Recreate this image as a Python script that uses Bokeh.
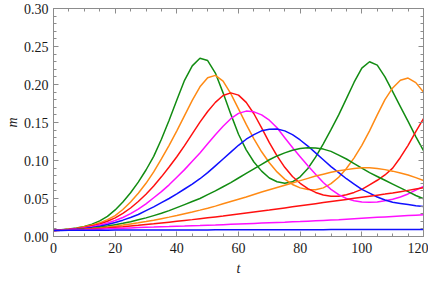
from bokeh.plotting import figure
from bokeh.models import Range1d, LinearAxis, FixedTicker, NumeralTickFormatter
from bokeh.embed import file_html
from bokeh.resources import INLINE

t = [0, 2.5, 5, 7.5, 10, 12.5, 15, 17.5, 20, 22.5, 25, 27.5, 30, 32.5, 35, 37.5, 40,
     42.5, 45, 47.5, 50, 52.5, 55, 57.5, 60, 62.5, 65, 67.5, 70, 72.5, 75, 77.5, 80,
     82.5, 85, 87.5, 90, 92.5, 95, 97.5, 100, 102.5, 105, 107.5, 110, 112.5, 115, 117.5, 120]

green1 = [0.0080, 0.0088, 0.0098, 0.0113, 0.0133, 0.0163, 0.0205, 0.0265, 0.0350, 0.0455,
          0.0575, 0.0715, 0.0875, 0.1055, 0.1280, 0.1530, 0.1795, 0.2055, 0.2245, 0.2345,
          0.2315, 0.2150, 0.1890, 0.1610, 0.1345, 0.1140, 0.0980, 0.0860, 0.0770, 0.0720,
          0.0700, 0.0720, 0.0785, 0.0895, 0.1045, 0.1220, 0.1405, 0.1600, 0.1815, 0.2030,
          0.2215, 0.2300, 0.2255, 0.2100, 0.1905, 0.1710, 0.1515, 0.1315, 0.1130]
orange1 = [0.0080, 0.0087, 0.0096, 0.0110, 0.0128, 0.0150, 0.0180, 0.0222, 0.0275, 0.0355,
           0.0455, 0.0570, 0.0700, 0.0850, 0.1020, 0.1200, 0.1390, 0.1590, 0.1790, 0.1970,
           0.2090, 0.2120, 0.2045, 0.1880, 0.1680, 0.1475, 0.1285, 0.1115, 0.0970, 0.0850,
           0.0755, 0.0685, 0.0640, 0.0618, 0.0615, 0.0640, 0.0695, 0.0780, 0.0895, 0.1035,
           0.1200, 0.1390, 0.1600, 0.1800, 0.1955, 0.2055, 0.2085, 0.2025, 0.1900]
red1 = [0.0080, 0.0086, 0.0094, 0.0106, 0.0120, 0.0140, 0.0165, 0.0200, 0.0245, 0.0305,
        0.0375, 0.0460, 0.0555, 0.0665, 0.0785, 0.0915, 0.1050, 0.1195, 0.1350, 0.1505,
        0.1645, 0.1765, 0.1855, 0.1890, 0.1860, 0.1765, 0.1615, 0.1430, 0.1235, 0.1060,
        0.0910, 0.0790, 0.0700, 0.0630, 0.0580, 0.0545, 0.0530, 0.0530, 0.0550, 0.0580,
        0.0620, 0.0680, 0.0740, 0.0810, 0.0900, 0.1040, 0.1200, 0.1380, 0.1550]
magenta1 = [0.0080, 0.0085, 0.0091, 0.0100, 0.0112, 0.0128, 0.0150, 0.0177, 0.0210, 0.0250,
            0.0300, 0.0360, 0.0430, 0.0510, 0.0590, 0.0680, 0.0780, 0.0880, 0.0990, 0.1100,
            0.1220, 0.1340, 0.1450, 0.1550, 0.1620, 0.1650, 0.1640, 0.1600, 0.1530, 0.1430,
            0.1300, 0.1170, 0.1050, 0.0930, 0.0820, 0.0710, 0.0620, 0.0550, 0.0500, 0.0470,
            0.0455, 0.0450, 0.0455, 0.0470, 0.0490, 0.0520, 0.0560, 0.0610, 0.0660]
blue1 = [0.0080, 0.0084, 0.0089, 0.0096, 0.0105, 0.0118, 0.0135, 0.0158, 0.0185, 0.0215,
         0.0250, 0.0290, 0.0340, 0.0390, 0.0445, 0.0500, 0.0560, 0.0625, 0.0690, 0.0760,
         0.0840, 0.0930, 0.1020, 0.1110, 0.1200, 0.1280, 0.1340, 0.1390, 0.1410, 0.1415,
         0.1390, 0.1340, 0.1270, 0.1190, 0.1100, 0.1010, 0.0920, 0.0840, 0.0760, 0.0690,
         0.0620, 0.0570, 0.0520, 0.0480, 0.0450, 0.0435, 0.0420, 0.0405, 0.0395]
green2 = [0.0080, 0.0083, 0.0087, 0.0093, 0.0100, 0.0110, 0.0122, 0.0137, 0.0155, 0.0173,
          0.0195, 0.0220, 0.0245, 0.0275, 0.0305, 0.0340, 0.0380, 0.0420, 0.0460, 0.0500,
          0.0550, 0.0600, 0.0655, 0.0710, 0.0770, 0.0830, 0.0890, 0.0950, 0.1010, 0.1060,
          0.1100, 0.1135, 0.1157, 0.1167, 0.1165, 0.1150, 0.1120, 0.1070, 0.1020, 0.0960,
          0.0900, 0.0840, 0.0790, 0.0740, 0.0690, 0.0640, 0.0590, 0.0540, 0.0496]
orange2 = [0.0080, 0.0082, 0.0085, 0.0090, 0.0096, 0.0104, 0.0113, 0.0124, 0.0136, 0.0150,
           0.0165, 0.0180, 0.0197, 0.0215, 0.0235, 0.0255, 0.0277, 0.0300, 0.0323, 0.0347,
           0.0372, 0.0400, 0.0430, 0.0460, 0.0490, 0.0520, 0.0553, 0.0585, 0.0615, 0.0645,
           0.0675, 0.0705, 0.0735, 0.0765, 0.0795, 0.0820, 0.0845, 0.0865, 0.0880, 0.0895,
           0.0903, 0.0903, 0.0895, 0.0880, 0.0860, 0.0835, 0.0810, 0.0775, 0.0737]
red2 = [0.0080, 0.0082, 0.0085, 0.0089, 0.0094, 0.0100, 0.0106, 0.0113, 0.0121, 0.0129,
        0.0138, 0.0147, 0.0157, 0.0167, 0.0178, 0.0189, 0.0200, 0.0211, 0.0222, 0.0234,
        0.0246, 0.0258, 0.0270, 0.0283, 0.0296, 0.0309, 0.0322, 0.0335, 0.0348, 0.0362,
        0.0376, 0.0390, 0.0404, 0.0418, 0.0432, 0.0446, 0.0460, 0.0474, 0.0488, 0.0502,
        0.0516, 0.0530, 0.0544, 0.0558, 0.0573, 0.0590, 0.0607, 0.0624, 0.0641]
magenta2 = [0.0080, 0.0081, 0.0083, 0.0086, 0.0089, 0.0093, 0.0097, 0.0101, 0.0105, 0.0109,
            0.0113, 0.0117, 0.0121, 0.0124, 0.0128, 0.0131, 0.0135, 0.0138, 0.0142, 0.0145,
            0.0149, 0.0152, 0.0156, 0.0160, 0.0164, 0.0168, 0.0172, 0.0176, 0.0180, 0.0184,
            0.0188, 0.0193, 0.0197, 0.0202, 0.0207, 0.0212, 0.0217, 0.0222, 0.0228, 0.0234,
            0.0240, 0.0246, 0.0252, 0.0258, 0.0264, 0.0270, 0.0275, 0.0280, 0.0285]
blue2 = [0.0080, 0.0080, 0.0081, 0.0081, 0.0082, 0.0082, 0.0083, 0.0083, 0.0084, 0.0084,
         0.0084, 0.0085, 0.0085, 0.0085, 0.0086, 0.0086, 0.0086, 0.0087, 0.0087, 0.0087,
         0.0087, 0.0088, 0.0088, 0.0088, 0.0088, 0.0089, 0.0089, 0.0089, 0.0089, 0.0089,
         0.0090, 0.0090, 0.0090, 0.0090, 0.0090, 0.0090, 0.0091, 0.0091, 0.0091, 0.0091,
         0.0091, 0.0091, 0.0092, 0.0092, 0.0092, 0.0092, 0.0092, 0.0092, 0.0092]

series = [green1, orange1, red1, magenta1, blue1, green2, orange2, red2, magenta2, blue2]
colors = ["#128c12", "#ff8a14", "#ff1010", "#ff10ff", "#1010ff",
          "#128c12", "#ff8a14", "#ff1010", "#ff10ff", "#1010ff"]

x_major_ticks = [0, 20, 40, 60, 80, 100, 120]
x_minor_ticks = [0, 5, 10, 15, 20, 25, 30, 35, 40, 45, 50, 55, 60, 65, 70, 75, 80, 85,
                 90, 95, 100, 105, 110, 115, 120]
y_major_ticks = [0.00, 0.05, 0.10, 0.15, 0.20, 0.25, 0.30]
y_minor_ticks = [0.00, 0.01, 0.02, 0.03, 0.04, 0.05, 0.06, 0.07, 0.08, 0.09, 0.10,
                 0.11, 0.12, 0.13, 0.14, 0.15, 0.16, 0.17, 0.18, 0.19, 0.20,
                 0.21, 0.22, 0.23, 0.24, 0.25, 0.26, 0.27, 0.28, 0.29, 0.30]

FONT = "Liberation Serif"
AX = "#8c8c8c"

p = figure(width=428, height=282, x_range=Range1d(0, 120), y_range=Range1d(0, 0.30),
           output_backend="svg", toolbar_location=None,
           min_border_left=53, min_border_right=5, min_border_top=8, min_border_bottom=46,
           x_axis_location=None, y_axis_location=None)
p.styles = {"position": "absolute", "top": "0px", "left": "0px"}
p.grid.visible = False
p.outline_line_color = None
p.background_fill_color = "white"
p.border_fill_color = "white"


def make_axis(is_x, labels):
    if is_x:
        tk = FixedTicker(ticks=x_major_ticks, minor_ticks=x_minor_ticks)
    else:
        tk = FixedTicker(ticks=y_major_ticks, minor_ticks=y_minor_ticks)
    ax = LinearAxis(ticker=tk)
    ax.axis_line_color = AX
    ax.axis_line_width = 1
    ax.major_tick_line_color = AX
    ax.minor_tick_line_color = AX
    ax.major_tick_in = 5
    ax.major_tick_out = 0
    ax.minor_tick_in = 3
    ax.minor_tick_out = 0
    if labels:
        ax.major_label_text_font = FONT
        ax.major_label_text_font_size = "14px"
        ax.major_label_text_color = "#1a1a1a"
        ax.axis_label_text_font = FONT
        ax.axis_label_text_font_size = "14px"
        ax.axis_label_text_font_style = "italic"
        ax.axis_label_text_color = "#1a1a1a"
        if is_x:
            ax.major_label_standoff = 6
            ax.axis_label = "t"
            ax.axis_label_standoff = 5
        else:
            ax.major_label_standoff = 5
            ax.axis_label = "m"
            ax.axis_label_standoff = 1
            ax.formatter = NumeralTickFormatter(format="0.00")
    else:
        ax.major_label_text_font_size = "0px"
        ax.major_label_standoff = 0
        ax.major_label_text_color = None
    return ax


p.add_layout(make_axis(True, True), "below")
p.add_layout(make_axis(False, True), "left")
p.add_layout(make_axis(True, False), "above")
p.add_layout(make_axis(False, False), "right")

for ys, c in zip(series, colors):
    p.line(x=t, y=ys, line_color=c, line_width=1.5)

open("out.html", "w").write(file_html(p, INLINE))
